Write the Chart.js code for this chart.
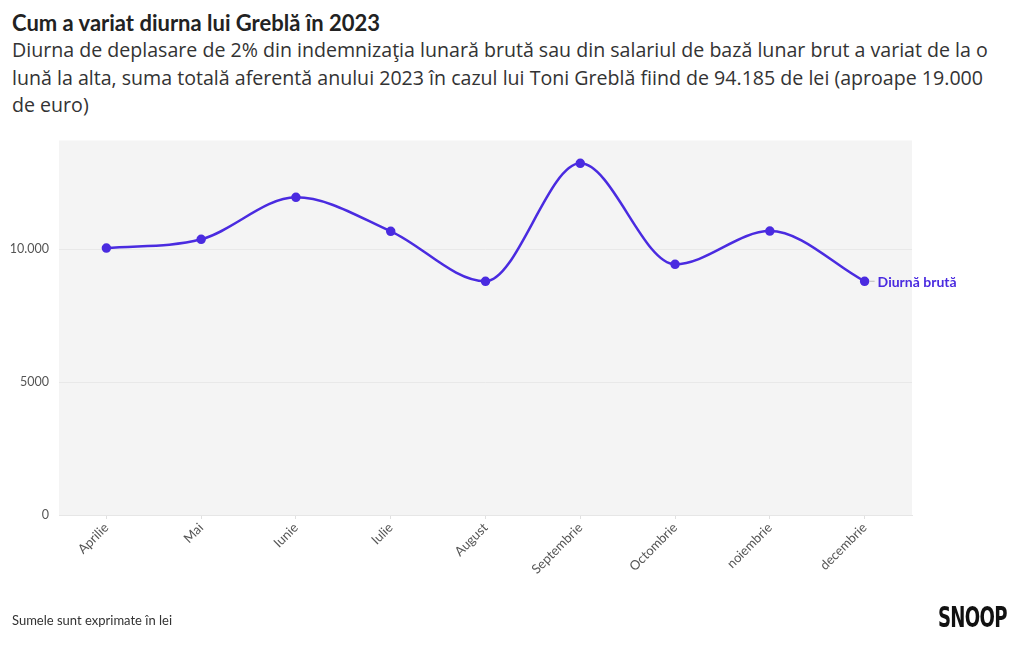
<!DOCTYPE html>
<html>
<head>
<meta charset="utf-8">
<script src="https://cdn.jsdelivr.net/npm/chart.js@4"></script>
<style>
  body { margin: 0; width: 1020px; height: 650px; background: #fff; font-family: Lato, "Open Sans", sans-serif; position: relative; overflow: hidden; }
  .title { position: absolute; left: 12px; top: 9px; font-size: 22px; font-weight: 700; color: #222; }
  .sub { position: absolute; left: 12px; top: 36px; width: 1010px; font-family: "Open Sans", sans-serif; font-size: 19.6px; line-height: 27.5px; color: #333; white-space: nowrap; }
  .note { position: absolute; left: 12px; top: 612px; font-size: 13px; color: #333; }
  .logo { position: absolute; left: 938px; top: 601px; font-family: "DejaVu Sans Condensed", sans-serif; font-weight: 700; font-size: 28px; color: #111; letter-spacing: -1px; transform: scaleX(0.72); transform-origin: left; }
  .box { position: absolute; left: 0; top: 123px; width: 1020px; height: 507px; }
</style>
</head>
<body>
<div class="title">Cum a variat diurna lui Greblă în 2023</div>
<div class="sub">Diurna de deplasare de 2% din indemnizaţia lunară brută sau din salariul de bază lunar brut a variat de la o<br>lună la alta, suma totală aferentă anului 2023 în cazul lui Toni Greblă fiind de 94.185 de lei (aproape 19.000<br>de euro)</div>
<div class="box"><canvas id="c"></canvas></div>
<div class="note">Sumele sunt exprimate în lei</div>
<div class="logo">SNOOP</div>
<script>
const months = ['Aprilie', 'Mai', 'Iunie', 'Iulie', 'August', 'Septembrie', 'Octombrie', 'noiembrie', 'decembrie'];
const diurna = [10050, 10380, 11960, 10680, 8800, 13240, 9440, 10690, 8800];
const yTicks = [0, 5000, 10000];
const seriesName = 'Diurnă brută';
const lineColor = '#4a2be0';

const plotBg = {
  id: 'plotBg',
  beforeDraw(chart) {
    const { ctx, chartArea: a } = chart;
    ctx.save();
    ctx.fillStyle = '#f4f4f4';
    ctx.fillRect(a.left, a.top, a.right - a.left, a.bottom - a.top);
    ctx.restore();
  }
};

const endLabel = {
  id: 'endLabel',
  afterDatasetsDraw(chart) {
    const { ctx } = chart;
    const pts = chart.getDatasetMeta(0).data;
    const p = pts[pts.length - 1];
    ctx.save();
    ctx.strokeStyle = '#bbb';
    ctx.lineWidth = 1;
    ctx.beginPath();
    ctx.moveTo(p.x + 5, p.y);
    ctx.lineTo(p.x + 10, p.y);
    ctx.stroke();
    ctx.fillStyle = lineColor;
    ctx.font = 'bold 14px Lato, sans-serif';
    ctx.textBaseline = 'middle';
    ctx.fillText(seriesName, p.x + 13, p.y + 1);
    ctx.restore();
  }
};

new Chart(document.getElementById('c'), {
  type: 'line',
  data: {
    labels: months,
    datasets: [{
      label: seriesName,
      data: diurna,
      borderColor: lineColor,
      backgroundColor: lineColor,
      borderWidth: 2.5,
      pointRadius: 3.5,
      pointHoverRadius: 3.5,
      cubicInterpolationMode: 'monotone',
      fill: false
    }]
  },
  options: {
    responsive: true,
    maintainAspectRatio: false,
    animation: false,
    layout: { padding: { top: 3, right: 108, left: 0, bottom: 0 } },
    plugins: { legend: { display: false }, tooltip: { enabled: false } },
    scales: {
      x: {
        offset: true,
        afterFit(s) { s.height = 115; },
        grid: { drawOnChartArea: false, color: '#e0e0e0', tickLength: 4 },
        border: { color: '#e6e6e6' },
        ticks: {
          maxRotation: 45, minRotation: 45,
          color: '#555',
          font: { family: 'Lato, sans-serif', size: 13 },
          padding: 1
        }
      },
      y: {
        min: 0, max: 14100,
        afterFit(s) { s.width = 59; },
        afterBuildTicks(s) { s.ticks = yTicks.map(v => ({ value: v })); },
        grid: { color: '#e8e8e8', drawTicks: false },
        border: { display: false },
        ticks: {
          color: '#555',
          padding: 10,
          font: { family: 'Lato, sans-serif', size: 12.5 },
          callback: v => v >= 10000 ? v.toLocaleString('de-DE') : String(v)
        }
      }
    }
  },
  plugins: [plotBg, endLabel]
});
</script>
</body>
</html>
